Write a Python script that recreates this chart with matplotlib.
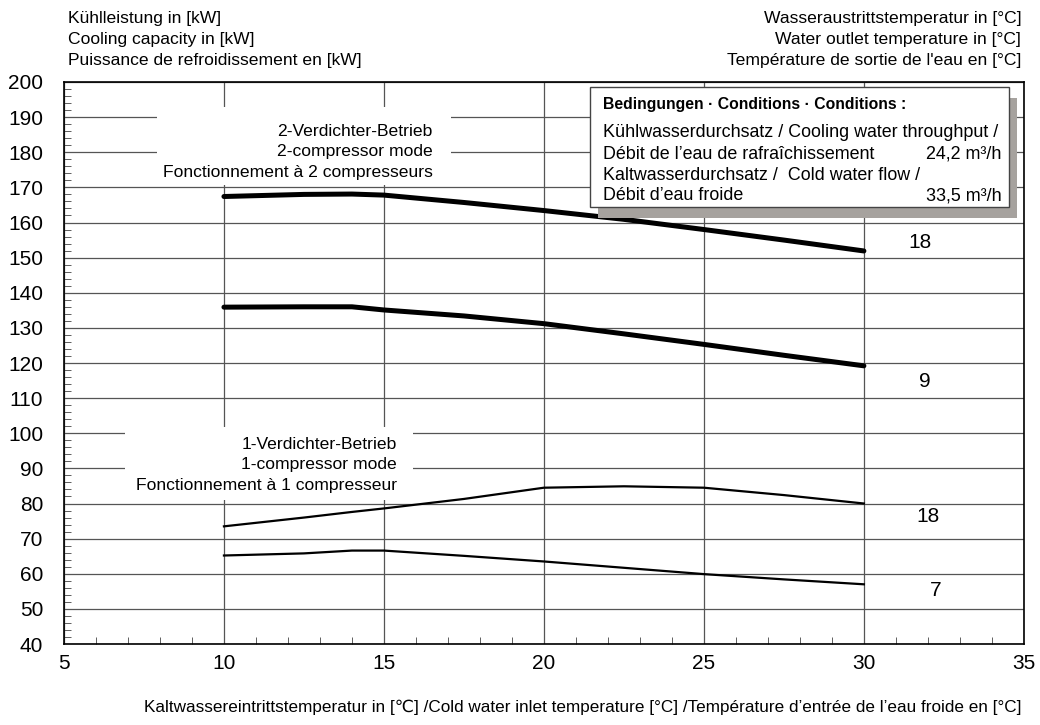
import matplotlib.pyplot as plt
from matplotlib.patches import Rectangle
from matplotlib.ticker import MultipleLocator

plt.rcParams['font.family'] = ['Liberation Sans', 'DejaVu Sans']

# Kaltwassereintrittstemperatur
temp = [10, 12.5, 14, 15, 17.5, 20, 22.5, 25, 27.5, 30]

# 2-Verdichter-Betrieb
two_18 = [167.4, 168.0, 168.1, 167.8, 165.7, 163.4, 160.9, 158.0, 155.0, 151.9]
two_9 = [135.9, 136.0, 136.0, 135.1, 133.4, 131.2, 128.3, 125.3, 122.2, 119.2]

# 1-Verdichter-Betrieb
one_18 = [73.5, 76.0, 77.6, 78.6, 81.3, 84.5, 84.9, 84.5, 82.4, 80.0]
one_7 = [65.2, 65.8, 66.6, 66.6, 65.1, 63.5, 61.7, 59.9, 58.4, 57.0]

curve_labels = ['18', '9', '18', '7']
label_pos = [(31.75, 154.2), (31.9, 114.7), (32.0, 76.4), (32.25, 55.3)]

fs = 12.6

fig = plt.figure(figsize=(10.4, 7.25), dpi=100)
ax = fig.add_axes([0.0615, 0.1117, 0.923, 0.7752])

ax.set_xlim(5, 35)
ax.set_ylim(40, 200)
ax.set_xticks([5, 10, 15, 20, 25, 30, 35])
ax.set_yticks(range(40, 201, 10))
ax.xaxis.set_minor_locator(MultipleLocator(1))
ax.yaxis.set_minor_locator(MultipleLocator(2))
ax.tick_params(which='major', length=0, labelsize=15)
ax.tick_params(axis='x', which='major', pad=7)
ax.tick_params(axis='y', which='major', pad=15)
ax.tick_params(which='minor', direction='in', length=5, width=0.6, color='#444444')
ax.tick_params(top=False, right=False, which='both')
for s in ax.spines.values():
    s.set_linewidth(1.2)

ax.grid(True, which='major', color='#555555', linewidth=0.9)
ax.set_axisbelow(True)

# Weiße Flächen hinter den Beschriftungen
ax.add_patch(Rectangle((7.9, 170.7), 9.2, 22.2, facecolor='white', edgecolor='none', zorder=1.5))
ax.add_patch(Rectangle((6.9, 81.0), 9.0, 20.8, facecolor='white', edgecolor='none', zorder=1.5))

ax.plot(temp, two_18, color='black', lw=3.6, solid_capstyle='round', zorder=3)
ax.plot(temp, two_9, color='black', lw=3.6, solid_capstyle='round', zorder=3)
ax.plot(temp, one_18, color='black', lw=1.6, zorder=3)
ax.plot(temp, one_7, color='black', lw=1.6, zorder=3)

for lab, (x, y) in zip(curve_labels, label_pos):
    ax.text(x, y, lab, fontsize=15, ha='center', va='center', zorder=4)

ax.text(16.53, 180.1, '2-Verdichter-Betrieb\n2-compressor mode\nFonctionnement à 2 compresseurs',
        ha='right', va='center', fontsize=fs, linespacing=1.45, multialignment='right', zorder=4)
ax.text(15.4, 91.0, '1-Verdichter-Betrieb\n1-compressor mode\nFonctionnement à 1 compresseur',
        ha='right', va='center', fontsize=fs, linespacing=1.45, multialignment='right', zorder=4)

# Bedingungen-Kasten mit Schatten
ax.add_patch(Rectangle((21.69, 161.3), 13.09, 34.2, facecolor='#a6a29e', edgecolor='none', zorder=5))
ax.add_patch(Rectangle((21.44, 164.4), 13.09, 34.2, facecolor='white', edgecolor='#444444', lw=1.0, zorder=6))
ax.text(21.85, 193.7, 'Bedingungen · Conditions · Conditions :', fontsize=11.3, fontweight='bold',
        ha='left', va='center', zorder=7)
box_lines = ['Kühlwasserdurchsatz / Cooling water throughput /',
             'Débit de l\u2019eau de rafraîchissement',
             'Kaltwasserdurchsatz /  Cold water flow /',
             'Débit d\u2019eau froide']
box_y = [185.5, 179.5, 173.5, 167.6]
for t, y in zip(box_lines, box_y):
    ax.text(21.85, y, t, fontsize=12.9, ha='left', va='center', zorder=7)
ax.text(34.31, box_y[1], '24,2 m³/h', fontsize=12.9, ha='right', va='center', zorder=7)
ax.text(34.31, box_y[3], '33,5 m³/h', fontsize=12.9, ha='right', va='center', zorder=7)

fig.text(0.065, 0.945, 'Kühlleistung in [kW]\nCooling capacity in [kW]\nPuissance de refroidissement en [kW]',
         ha='left', va='center', fontsize=fs, linespacing=1.5)
fig.text(0.982, 0.945, 'Wasseraustrittstemperatur in [°C]\nWater outlet temperature in [°C]\nTempérature de sortie de l\'eau en [°C]',
         ha='right', va='center', fontsize=fs, linespacing=1.5, multialignment='right')
fig.text(0.982, 0.024, 'Kaltwassereintrittstemperatur in [\u2103] /Cold water inlet temperature [°C] /Température d\u2019entrée de l\u2019eau froide en [°C]',
         ha='right', va='center', fontsize=12.3)

fig.savefig('out.png', dpi=100)
